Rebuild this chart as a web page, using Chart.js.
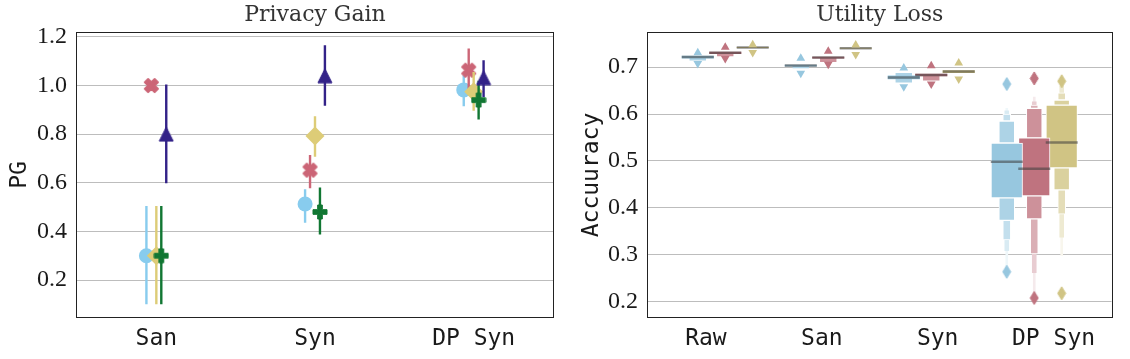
<!DOCTYPE html>
<html>
<head>
<meta charset="utf-8">
<script src="https://cdn.jsdelivr.net/npm/chart.js@4.4.0/dist/chart.umd.min.js"></script>
<style>
  html, body { margin: 0; padding: 0; background: #fff; }
  #wrap { position: relative; width: 1130px; height: 359px; }
  canvas { position: absolute; top: 0; }
</style>
</head>
<body>
<div id="wrap">
  <canvas id="pg" width="565" height="359" style="left:0"></canvas>
  <canvas id="acc" width="565" height="359" style="left:565px"></canvas>
</div>
<script>
var serif = "'Liberation Serif', 'DejaVu Serif', serif";
var titleFont = "'DejaVu Serif', serif";
var mono = "'DejaVu Sans Mono', 'Liberation Mono', monospace";
var ink = '#1a1a1a';
var gridCol = '#bdbdbd';

/* ---- Privacy Gain (left) ---- */
var pgCats = ['San', 'Syn', 'DP Syn'];
var pgTicks = [0.2, 0.4, 0.6, 0.8, 1.0, 1.2];
var pgBlue     = [0.300, 0.513, 0.982];
var pgBlueLo   = [0.100, 0.436, 0.915];
var pgBlueHi   = [0.505, 0.573, 1.042];
var pgRed      = [1.000, 0.652, 1.063];
var pgRedLo    = [1.000, 0.577, 0.985];
var pgRedHi    = [1.000, 0.714, 1.152];
var pgYellow   = [0.300, 0.792, 0.974];
var pgYellowLo = [0.100, 0.707, 0.896];
var pgYellowHi = [0.505, 0.874, 1.056];
var pgGreen    = [0.300, 0.480, 0.940];
var pgGreenLo  = [0.100, 0.387, 0.860];
var pgGreenHi  = [0.505, 0.581, 1.020];
var pgNavy     = [0.800, 1.040, 1.032];
var pgNavyLo   = [0.598, 0.917, 0.953];
var pgNavyHi   = [1.004, 1.166, 1.104];

/* ---- Utility Loss (right) ---- */
var accCats = ['Raw', 'San', 'Syn', 'DP Syn'];
var accTicks = [0.2, 0.3, 0.4, 0.5, 0.6, 0.7];
var accMedBlue   = [0.722, 0.7034, 0.678, 0.498];
var accMedRed    = [0.7306, 0.7205, 0.6835, 0.483];
var accMedYellow = [0.742, 0.7406, 0.6906, 0.539];
// letter values, from the IQR outwards, per category
var accLowBlue    = [[0.7195, 0.715], [0.702, 0.6985], [0.675, 0.668], [0.421, 0.373, 0.331, 0.308, 0.270]];
var accHighBlue   = [[0.7235], [0.7045], [0.6815, 0.687], [0.538, 0.585, 0.600, 0.607, 0.612]];
var accLowRed     = [[0.729, 0.724], [0.719, 0.712], [0.6815, 0.672], [0.425, 0.376, 0.301, 0.261, 0.218]];
var accHighRed    = [[0.732], [0.7215], [0.6855], [0.549, 0.612, 0.619, 0.626, 0.636]];
var accLowYellow  = [[0.7415], [0.740], [0.6885], [0.485, 0.438, 0.386, 0.337, 0.298]];
var accHighYellow = [[0.7425], [0.741], [0.6925], [0.619, 0.630, 0.645, 0.660, 0.668]];
var accOutHiBlue   = [0.7306, 0.719, 0.698, 0.664];
var accOutLoBlue   = [0.7077, 0.687, 0.658, 0.263];
var accOutHiRed    = [0.7427, 0.734, 0.7028, 0.676];
var accOutLoRed    = [0.7184, 0.706, 0.664, 0.207];
var accOutHiYellow = [0.748, 0.7476, 0.709, 0.670];
var accOutLoYellow = [0.7316, 0.7273, 0.675, 0.217];

/* markers */
function polyMarker(pts, w, h, color, lw){
  var c = document.createElement('canvas');
  c.width = w; c.height = h;
  var g = c.getContext('2d');
  var pad = lw || 1;
  g.fillStyle = color; g.strokeStyle = color; g.lineWidth = pad; g.lineJoin = 'round';
  g.beginPath();
  pts.forEach(function(p, i){
    var x = w / 2 + p[0] * (w - 2 * pad), y = h / 2 - p[1] * (h - 2 * pad);
    if (i === 0) g.moveTo(x, y); else g.lineTo(x, y);
  });
  g.closePath(); g.fill(); g.stroke();
  return c;
}
var xShape = [[-1,-2],[0,-1],[1,-2],[2,-1],[1,0],[2,1],[1,2],[0,1],[-1,2],[-2,1],[-1,0],[-2,-1]].map(function(p){ return [p[0]/4, p[1]/4]; });
var plusShape = [[-1,-3],[1,-3],[1,-1],[3,-1],[3,1],[1,1],[1,3],[-1,3],[-1,1],[-3,1],[-3,-1],[-1,-1]].map(function(p){ return [p[0]/6, p[1]/6]; });
var triShape = [[0,0.5],[-0.5,-0.5],[0.5,-0.5]];
var diamondShape = [[0,0.5],[0.5,0],[0,-0.5],[-0.5,0]];

var framePlugin = {
  id: 'frame',
  afterDraw: function(chart){
    var a = chart.chartArea, c = chart.ctx;
    c.save();
    c.strokeStyle = '#222'; c.lineWidth = 1;
    c.strokeRect(Math.round(a.left) - 0.5, Math.round(a.top) - 0.5, Math.round(a.right - a.left) + 1, Math.round(a.bottom - a.top) + 1);
    c.restore();
  }
};

/* ---------- left chart ---------- */
var pgSeries = [
  {m: pgBlue,   lo: pgBlueLo,   hi: pgBlueHi,   color: '#88CCEE', style: 'circle', r: 7.5},
  {m: pgRed,    lo: pgRedLo,    hi: pgRedHi,    color: '#CC6677', style: polyMarker(xShape, 17, 17, '#CC6677', 2), r: 8},
  {m: pgYellow, lo: pgYellowLo, hi: pgYellowHi, color: '#DDCC77', style: 'rectRot', r: 9.5},
  {m: pgGreen,  lo: pgGreenLo,  hi: pgGreenHi,  color: '#117733', style: polyMarker(plusShape, 16, 16, '#117733', 1), r: 8},
  {m: pgNavy,   lo: pgNavyLo,   hi: pgNavyHi,   color: '#332288', style: polyMarker(triShape, 16, 16, '#332288', 1), r: 8}
];
var pgSets = [];
var n = pgSeries.length * 2;
pgSeries.forEach(function(s, h){
  var off = (h - 2) * 0.03125;
  var err = [];
  for (var i = 0; i < pgCats.length; i++){
    err.push({x: i + off, y: s.lo[i]}, {x: i + off, y: s.hi[i]}, {x: i + off, y: null});
  }
  pgSets.push({
    data: err, showLine: true, spanGaps: false, borderColor: s.color, borderWidth: 2.4,
    pointRadius: 0, order: n - pgSets.length
  });
  pgSets.push({
    data: s.m.map(function(v, i){ return {x: i + off, y: v}; }),
    pointStyle: s.style, pointRadius: s.r, backgroundColor: s.color, borderColor: s.color,
    borderWidth: 0, order: n - pgSets.length
  });
});

new Chart(document.getElementById('pg'), {
  type: 'scatter',
  data: {datasets: pgSets},
  plugins: [framePlugin],
  options: {
    responsive: false, animation: false, events: [],
    layout: {padding: {right: 12}},
    plugins: {
      legend: {display: false}, tooltip: {enabled: false},
      title: {display: true, text: 'Privacy Gain', fullSize: false, color: '#333',
        font: {family: titleFont, size: 22, weight: 'normal', lineHeight: 1.2}, padding: {top: 2, bottom: 4.6}}
    },
    scales: {
      x: {
        type: 'linear', min: -0.5, max: 2.5,
        afterBuildTicks: function(s){ s.ticks = pgCats.map(function(c, i){ return {value: i}; }); },
        afterFit: function(s){ s.height = 42; },
        ticks: {padding: 0, color: ink, font: {family: mono, size: 23}, maxRotation: 0, autoSkip: false,
          callback: function(v){ return pgCats[v]; }},
        grid: {display: false}, border: {display: false}
      },
      y: {
        min: 0.048, max: 1.216,
        afterBuildTicks: function(s){ s.ticks = pgTicks.map(function(v){ return {value: v}; }); },
        afterFit: function(s){ s.width = 77; },
        ticks: {padding: 10, color: ink, font: {family: serif, size: 24},
          callback: function(v){ return v.toFixed(1); }},
        grid: {color: gridCol, lineWidth: 1, drawTicks: false}, border: {display: false},
        title: {display: true, text: 'PG', color: ink, font: {family: mono, size: 23, lineHeight: 1.2}, padding: {top: 6, bottom: 0}}
      }
    }
  }
});

/* ---------- right chart ---------- */
function mix(rgb, t){
  return 'rgb(' + rgb.map(function(c){ return Math.round(c + (255 - c) * t); }).join(',') + ')';
}
var accSeries = [
  {med: accMedBlue,   low: accLowBlue,   high: accHighBlue,   hiOut: accOutHiBlue,   loOut: accOutLoBlue,   rgb: [151, 199, 223]},
  {med: accMedRed,    low: accLowRed,    high: accHighRed,    hiOut: accOutHiRed,    loOut: accOutLoRed,    rgb: [191, 115, 127]},
  {med: accMedYellow, low: accLowYellow, high: accHighYellow, hiOut: accOutHiYellow, loOut: accOutLoYellow, rgb: [208, 196, 132]}
];
var slotPx = 31.5;
var accSets = [];
function boxSet(s, k, data){
  return {
    type: 'bar', data: data, xAxisID: 'x2', grouped: false,
    backgroundColor: mix(s.rgb, 0.85 * k / 4), borderColor: '#ffffff', borderSkipped: false,
    borderWidth: function(ctx){ return (ctx.raw && ctx.raw.x < 2.5 && k < 3) || k >= 3 ? 0 : 1; },
    barThickness: slotPx / Math.pow(2, k), order: 10
  };
}
accSeries.forEach(function(s, h){
  var off = (h - 1) * 0.8 / 3;
  for (var k = 0; k < 5; k++){
    var lower = [], upper = [];
    accCats.forEach(function(c, i){
      if (k === 0){
        lower.push({x: i + off, y: [s.low[i][0], s.high[i][0]]});
      } else {
        if (s.low[i][k] !== undefined) lower.push({x: i + off, y: [s.low[i][k], s.low[i][k - 1]]});
        if (s.high[i][k] !== undefined) upper.push({x: i + off, y: [s.high[i][k - 1], s.high[i][k]]});
      }
    });
    accSets.push(boxSet(s, k, lower));
    if (upper.length) accSets.push(boxSet(s, k, upper));
  }
});
accSeries.forEach(function(s, h){
  var off = (h - 1) * 0.8 / 3;
  var col = mix(s.rgb, 0);
  var diamond = polyMarker(diamondShape, 10, 15, col, 1);
  accSets.push({
    type: 'scatter', xAxisID: 'x2', order: 2,
    data: s.med.map(function(v, i){ return {x: i + off, y: v}; }),
    pointStyle: 'line', pointRadius: 16, borderColor: 'rgba(60,60,60,0.55)', borderWidth: 2.5
  });
  [s.hiOut, s.loOut].forEach(function(arr, j){
    accSets.push({
      type: 'scatter', xAxisID: 'x2', order: 1,
      data: arr.map(function(v, i){ return {x: i + off, y: v}; }),
      pointStyle: function(ctx){ return accCats[ctx.dataIndex] === 'DP Syn' ? diamond : 'triangle'; },
      rotation: j === 0 ? 0 : 180,
      pointRadius: 5, backgroundColor: col, borderColor: col, borderWidth: 0
    });
  });
});

new Chart(document.getElementById('acc'), {
  type: 'bar',
  data: {labels: accCats, datasets: accSets},
  plugins: [framePlugin],
  options: {
    responsive: false, animation: false, events: [],
    layout: {padding: {right: 10}},
    plugins: {
      legend: {display: false}, tooltip: {enabled: false},
      title: {display: true, text: 'Utility Loss', fullSize: false, color: '#333',
        font: {family: titleFont, size: 22, weight: 'normal', lineHeight: 1.2}, padding: {top: 2, bottom: 4.6}}
    },
    scales: {
      x: {
        type: 'category', offset: true,
        afterFit: function(s){ s.height = 42; },
        ticks: {padding: 0, color: ink, font: {family: mono, size: 23}, maxRotation: 0, autoSkip: false},
        grid: {display: false}, border: {display: false}
      },
      x2: {type: 'linear', min: -0.5, max: 3.5, display: false},
      y: {
        min: 0.1665, max: 0.773, stacked: false,
        afterBuildTicks: function(s){ s.ticks = accTicks.map(function(v){ return {value: v}; }); },
        afterFit: function(s){ s.width = 83; },
        ticks: {padding: 10, color: ink, font: {family: serif, size: 24},
          callback: function(v){ return v.toFixed(1); }},
        grid: {color: gridCol, lineWidth: 1, drawTicks: false}, border: {display: false},
        title: {display: true, text: 'Accuuracy', color: ink, font: {family: mono, size: 23, lineHeight: 1.2}, padding: {top: 13, bottom: 0}}
      }
    }
  }
});
</script>
</body>
</html>
